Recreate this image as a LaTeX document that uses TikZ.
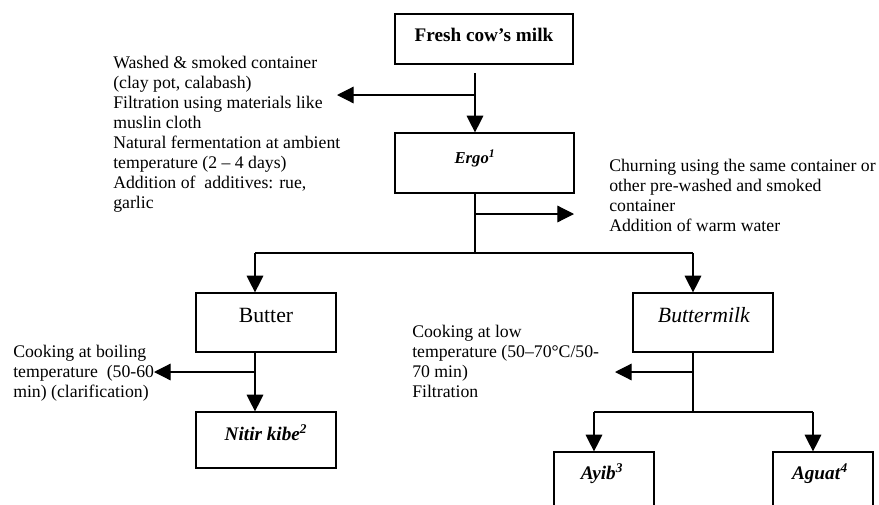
\documentclass[tikz,border=0pt]{standalone}
\usepackage{fontspec}
\setmainfont{Liberation Serif}
\usetikzlibrary{arrows.meta}
\begin{document}
\begin{tikzpicture}[x=0.75pt,y=-0.75pt,
  boxnode/.style={draw,line width=0.9pt,inner sep=0pt,rectangle},
  lbl/.style={inner sep=0pt,anchor=base},
  note/.style={inner sep=0pt,anchor=north west,align=left,font=\fontsize{13.3}{15}\selectfont},
  line/.style={line width=0.9pt},
  arr/.style={line width=0.9pt,-{Triangle[length=12.5pt,width=12.5pt]}},
  titlefont/.style={font=\fontsize{14.4}{16}\selectfont}]
\useasboundingbox (0,0) rectangle (879,504);
\clip (0,0) rectangle (879,504);
% boxes
\node[boxnode,minimum width=133.5pt,minimum height=37.5pt] (fresh) at (484,39) {};
\node[boxnode,minimum width=134.25pt,minimum height=45pt] (ergo) at (484.5,163) {};
\node[boxnode,minimum width=105pt,minimum height=44.25pt] (butter) at (266,322.5) {};
\node[boxnode,minimum width=105pt,minimum height=42pt] (nitir) at (266,440) {};
\node[boxnode,minimum width=105pt,minimum height=44.25pt] (bmilk) at (703,322.5) {};
\node[boxnode,minimum width=75pt,minimum height=57pt] (ayib) at (604,490) {};
\node[boxnode,minimum width=75pt,minimum height=57pt] (aguat) at (823,490) {};
% box texts
\node[lbl,titlefont] (freshT) at (484,41.5) {\textbf{Fresh cow’s milk}};
\node[lbl,font=\fontsize{12.5}{14}\selectfont] (ergoT) at (475,163) {\textbf{\textit{Ergo}}\textsuperscript{\textbf{\textit{1}}}};
\node[lbl,font=\fontsize{16.3}{18}\selectfont] (butterT) at (266,322) {Butter};
\node[lbl,font=\fontsize{16.3}{18}\selectfont] (bmilkT) at (704,322) {\textit{Buttermilk}};
\node[lbl,titlefont] (nitirT) at (266,440) {\textbf{\textit{Nitir kibe}}\textsuperscript{\textbf{\textit{2}}}};
\node[lbl,titlefont] (ayibT) at (602,479) {\textbf{\textit{Ayib}}\textsuperscript{\textbf{\textit{3}}}};
\node[lbl,titlefont] (aguatT) at (820,479) {\textbf{\textit{Aguat}}\textsuperscript{\textbf{\textit{4}}}};
% notes
\node[note] (noteA) at (113,56) {Washed \& smoked container\\(clay pot, calabash)\\Filtration using materials like\\muslin cloth\\Natural fermentation at ambient\\temperature (2 – 4 days)\\Addition of~ additives: rue,\\garlic};
\node[note] (noteB) at (609,159) {Churning using the same container or\\other pre-washed and smoked\\container\\Addition of warm water};
\node[note] (noteC) at (13,345) {Cooking at boiling\\temperature~ (50-60\\min) (clarification)};
\node[note] (noteD) at (412,325) {Cooking at low\\temperature (50–70°C/50-\\70 min)\\Filtration};
% connector coordinates
\coordinate (s1) at (475,73);
\coordinate (b1) at (475,95);
\coordinate (t1) at (337,95);
\coordinate (b2) at (475,214);
\coordinate (t2) at (574,214);
\coordinate (j1) at (475,253);
\coordinate (jl) at (255,253);
\coordinate (jr) at (693,253);
\coordinate (b3) at (255,372);
\coordinate (t3) at (154,372);
\coordinate (b4) at (693,372);
\coordinate (t4) at (615,372);
\coordinate (j2) at (693,412);
\coordinate (jl2) at (594,412);
\coordinate (jr2) at (813,412);
% connectors
\draw[arr] (s1) -- (s1 |- ergo.north);
\draw[arr] (b1) -- (t1);
\draw[line] (b1 |- ergo.south) -- (j1);
\draw[arr] (b2) -- (t2);
\draw[line] (jl) -- (jr);
\draw[arr] (jl) -- (jl |- butter.north);
\draw[arr] (jr) -- (jr |- bmilk.north);
\draw[arr] (jl |- butter.south) -- (jl |- nitir.north);
\draw[arr] (b3) -- (t3);
\draw[line] (jr |- bmilk.south) -- (j2);
\draw[arr] (b4) -- (t4);
\draw[line] (jl2) -- (jr2);
\draw[arr] (jl2) -- (jl2 |- ayib.north);
\draw[arr] (jr2) -- (jr2 |- aguat.north);
\end{tikzpicture}
\end{document}
